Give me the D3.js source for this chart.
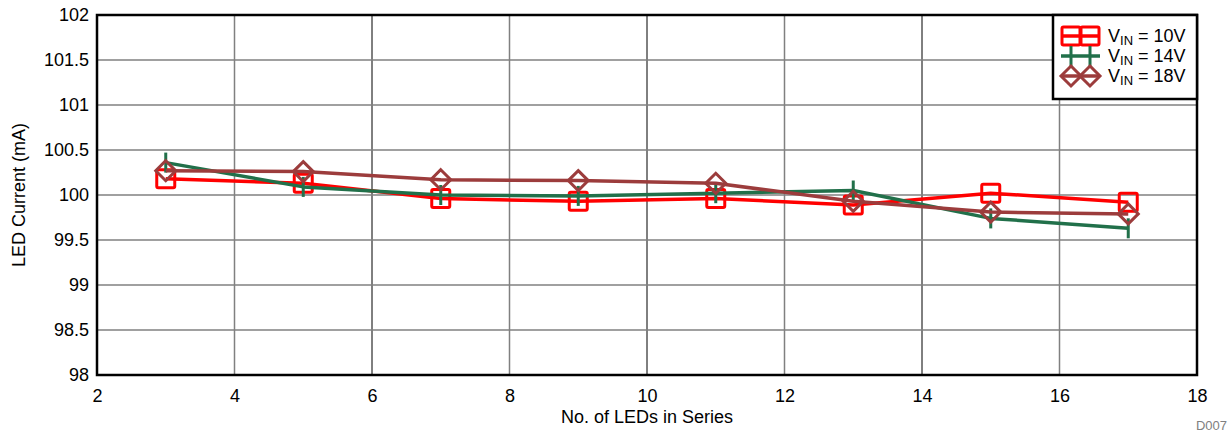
<!DOCTYPE html>
<html>
<head>
<meta charset="utf-8">
<script src="https://cdn.jsdelivr.net/npm/d3@7"></script>
<style>
  body { margin: 0; background: #fff; }
  svg { display: block; font-family: "Liberation Sans", Arial, sans-serif; }
</style>
</head>
<body>
<svg id="chart" width="1231" height="434"></svg>
<script>
// LED count in series
const ledCounts = [3, 5, 7, 9, 11, 13, 15, 17];
// LED current (mA) for each input voltage
const current10V = [100.18, 100.13, 99.96, 99.93, 99.96, 99.89, 100.02, 99.92];
const current14V = [100.36, 100.09, 100.0, 99.99, 100.02, 100.05, 99.74, 99.63];
const current18V = [100.27, 100.26, 100.17, 100.16, 100.13, 99.93, 99.81, 99.79];
const xTicks = [2, 4, 6, 8, 10, 12, 14, 16, 18];
const yTicks = [98, 98.5, 99, 99.5, 100, 100.5, 101, 101.5, 102];
const seriesNames = ["10V", "14V", "18V"];

const svg = d3.select("#chart");
const m = { left: 97, right: 1197, top: 15, bottom: 375 };
const FS = 18;

const x = d3.scaleLinear().domain([2, 18]).range([m.left, m.right]);
const y = d3.scaleLinear().domain([98, 102]).range([m.bottom, m.top]);

// grid
const darkGrid = new Set([6, 10, 14]);
svg.append("g").selectAll("line").data(xTicks.slice(1, -1)).join("line")
  .attr("x1", d => x(d)).attr("x2", d => x(d))
  .attr("y1", m.top).attr("y2", m.bottom)
  .attr("stroke", d => darkGrid.has(d) ? "#000" : "#808080")
  .attr("stroke-width", d => darkGrid.has(d) ? 1 : 1.5);
svg.append("g").selectAll("line").data(yTicks.slice(1, -1)).join("line")
  .attr("x1", m.left).attr("x2", m.right)
  .attr("y1", d => y(d)).attr("y2", d => y(d))
  .attr("stroke", "#808080").attr("stroke-width", 1.5);

// axes labels via d3 axes (no domain / tick lines)
const xAxis = svg.append("g").attr("transform", `translate(0,${m.bottom})`)
  .call(d3.axisBottom(x).tickValues(xTicks).tickSize(0).tickPadding(14).tickFormat(d3.format("d")));
const yAxis = svg.append("g").attr("transform", `translate(${m.left},0)`)
  .call(d3.axisLeft(y).tickValues(yTicks).tickSize(0).tickPadding(8).tickFormat(d => String(d)));
[xAxis, yAxis].forEach(a => {
  a.select(".domain").remove();
  a.selectAll("text").attr("font-size", FS).attr("fill", "#000")
    .attr("font-family", "'Liberation Sans', Arial, sans-serif");
});

// plot frame
svg.append("rect").attr("x", m.left).attr("y", m.top)
  .attr("width", m.right - m.left).attr("height", m.bottom - m.top)
  .attr("fill", "none").attr("stroke", "#000").attr("stroke-width", 2.5);

// titles
svg.append("text").attr("x", (m.left + m.right) / 2).attr("y", 423)
  .attr("text-anchor", "middle").attr("font-size", FS).text("No. of LEDs in Series");
svg.append("text").attr("transform", `translate(25,${(m.top + m.bottom) / 2}) rotate(-90)`)
  .attr("text-anchor", "middle").attr("font-size", FS).text("LED Current (mA)");
svg.append("text").attr("x", 1227).attr("y", 430).attr("text-anchor", "end")
  .attr("font-size", 13).attr("fill", "#808080").text("D007");

// marker shapes
function drawMarker(g, type, color, cx, cy) {
  if (type === "square") {
    g.append("rect").attr("x", cx - 9).attr("y", cy - 9).attr("width", 18).attr("height", 18)
      .attr("rx", 1.5).attr("fill", "none").attr("stroke", color).attr("stroke-width", 3);
  } else if (type === "tick") {
    g.append("line").attr("x1", cx).attr("x2", cx).attr("y1", cy - 10).attr("y2", cy + 10)
      .attr("stroke", color).attr("stroke-width", 3);
  } else {
    const r = 10;
    g.append("path").attr("d", `M${cx},${cy - r}L${cx + r},${cy}L${cx},${cy + r}L${cx - r},${cy}Z`)
      .attr("fill", "none").attr("stroke", color).attr("stroke-width", 3);
  }
}

const series = [
  { name: seriesNames[0], values: current10V, color: "#ff0000", marker: "square" },
  { name: seriesNames[1], values: current14V, color: "#21704a", marker: "tick" },
  { name: seriesNames[2], values: current18V, color: "#9c3c3c", marker: "diamond" }
];

const line = d3.line().x(d => x(d[0])).y(d => y(d[1]));
series.forEach(s => {
  const pts = ledCounts.map((c, i) => [c, s.values[i]]);
  const g = svg.append("g");
  g.append("path").attr("d", line(pts)).attr("fill", "none")
    .attr("stroke", s.color).attr("stroke-width", 3.5).attr("stroke-linejoin", "round");
  pts.forEach(p => drawMarker(g, s.marker, s.color, x(p[0]), y(p[1])));
});

// legend
const lg = svg.append("g");
lg.append("rect").attr("x", 1053).attr("y", 15).attr("width", 144).attr("height", 84)
  .attr("fill", "#fff").attr("stroke", "#000").attr("stroke-width", 2.5);
series.forEach((s, i) => {
  const cy = 36 + i * 20;
  lg.append("line").attr("x1", 1061).attr("x2", 1100).attr("y1", cy).attr("y2", cy)
    .attr("stroke", s.color).attr("stroke-width", 3.5);
  drawMarker(lg, s.marker, s.color, 1071, cy);
  drawMarker(lg, s.marker, s.color, 1090, cy);
  const t = lg.append("text").attr("x", 1108).attr("y", cy + 6).attr("font-size", FS);
  t.append("tspan").text("V");
  t.append("tspan").attr("font-size", 13).attr("dy", 3).text("IN");
  t.append("tspan").attr("dy", -3).text(" = " + s.name);
});
</script>
</body>
</html>
